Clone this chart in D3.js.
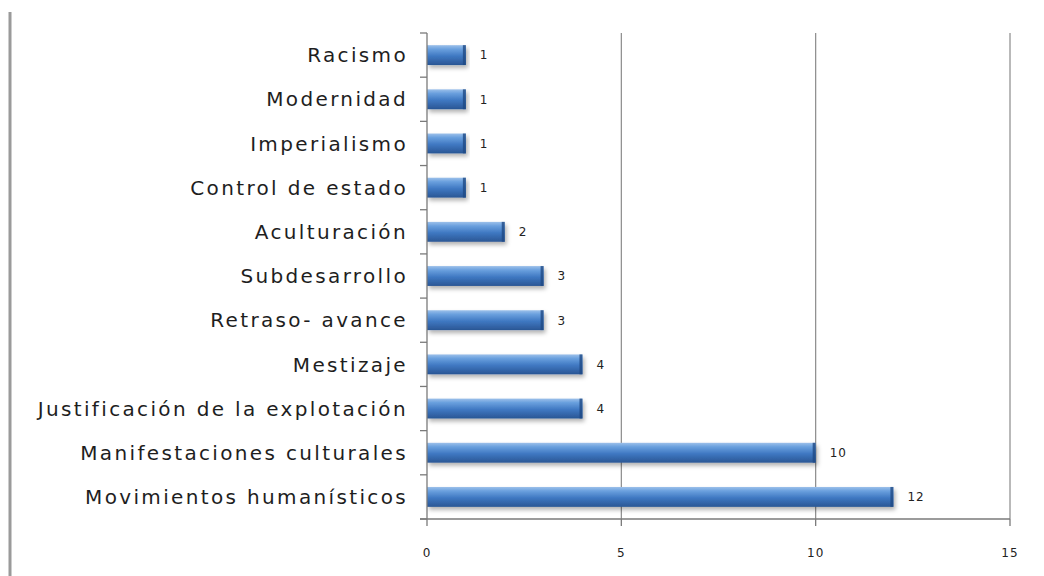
<!DOCTYPE html>
<html><head><meta charset="utf-8">
<script src="https://cdn.jsdelivr.net/npm/d3@7"></script>
<style>body{margin:0;background:#fff;}svg{display:block;}</style>
</head><body>
<script>
const categories = ["Racismo","Modernidad","Imperialismo","Control de estado","Aculturación","Subdesarrollo","Retraso- avance","Mestizaje","Justificación de la explotación","Manifestaciones culturales","Movimientos humanísticos"];
const values = [1,1,1,1,2,3,3,4,4,10,12];
const xTicks = [0,5,10,15];

const W=1044,H=576;
const svg=d3.select("body").append("svg").attr("width",W).attr("height",H);
const defs=svg.append("defs");
const g1=defs.append("linearGradient").attr("id","bar").attr("x1",0).attr("y1",0).attr("x2",0).attr("y2",1);
[[0,"#9cc0ea"],[0.2,"#6aa0de"],[0.55,"#3f78c2"],[1,"#2a5694"]].forEach(([o,c])=>g1.append("stop").attr("offset",o).attr("stop-color",c));
const f=defs.append("filter").attr("id","sh").attr("x","-5%").attr("y","-20%").attr("width","115%").attr("height","170%");
f.append("feDropShadow").attr("dx",2).attr("dy",3).attr("stdDeviation",2).attr("flood-color","#000").attr("flood-opacity",0.3);

svg.append("line").attr("x1",10).attr("x2",10).attr("y1",12).attr("y2",H).attr("stroke","#9a9a9a").attr("stroke-width",3);

const x=d3.scaleLinear().domain([0,15]).range([427,1010]);
const y=d3.scaleBand().domain(categories).range([33,519]).paddingInner(0.55).paddingOuter(0.275);

svg.append("g").selectAll("line").data(xTicks.slice(1)).join("line")
 .attr("x1",d=>x(d)).attr("x2",d=>x(d)).attr("y1",33).attr("y2",519)
 .attr("stroke","#8a8a8a").attr("stroke-width",1.2);

svg.append("g").selectAll("rect").data(values).join("rect")
 .attr("x",x(0)).attr("y",(d,i)=>y(categories[i])).attr("width",d=>x(d)-x(0)).attr("height",y.bandwidth())
 .attr("fill","url(#bar)").attr("filter","url(#sh)");
svg.append("g").selectAll("rect").data(values).join("rect")
 .attr("x",d=>x(d)-3).attr("y",(d,i)=>y(categories[i])).attr("width",3).attr("height",y.bandwidth())
 .attr("fill","#1f4a85").attr("opacity",0.8);

const ya=svg.append("g").attr("transform","translate(427,0)");
ya.append("line").attr("x1",0).attr("x2",0).attr("y1",33).attr("y2",519).attr("stroke","#7a7a7a").attr("stroke-width",1.3);
ya.selectAll("line.t").data(d3.range(12)).join("line").attr("class","t")
 .attr("x1",-7).attr("x2",0).attr("y1",i=>33+i*(486/11)).attr("y2",i=>33+i*(486/11)).attr("stroke","#7a7a7a").attr("stroke-width",1.3);
ya.selectAll("text").data(categories).join("text")
 .attr("x",-19).attr("y",d=>y(d)+y.bandwidth()/2).attr("dy","0.36em").attr("text-anchor","end")
 .attr("font-family","DejaVu Sans, sans-serif").attr("font-size",20).attr("letter-spacing","2.35px")
 .attr("fill","#1e1e1e").text(d=>d);

const xa=svg.append("g");
xa.append("line").attr("x1",420).attr("x2",1010).attr("y1",519).attr("y2",519).attr("stroke","#7a7a7a").attr("stroke-width",1.3);
xa.selectAll("line.t").data(xTicks).join("line").attr("class","t")
 .attr("x1",d=>x(d)).attr("x2",d=>x(d)).attr("y1",519).attr("y2",526).attr("stroke","#7a7a7a").attr("stroke-width",1.3);
xa.selectAll("text").data(xTicks).join("text")
 .attr("x",d=>x(d)).attr("y",553).attr("dy","0.35em").attr("text-anchor","middle")
 .attr("font-family","DejaVu Sans, sans-serif").attr("font-size",12).attr("letter-spacing","1px").attr("fill","#222").text(d=>d);

svg.append("g").selectAll("text").data(values).join("text")
 .attr("x",d=>x(d)+14).attr("y",(d,i)=>y(categories[i])+y.bandwidth()/2).attr("dy","0.36em")
 .attr("font-family","DejaVu Sans, sans-serif").attr("font-size",12).attr("letter-spacing","1px").attr("fill","#222").text(d=>d);
</script>
</body></html>
